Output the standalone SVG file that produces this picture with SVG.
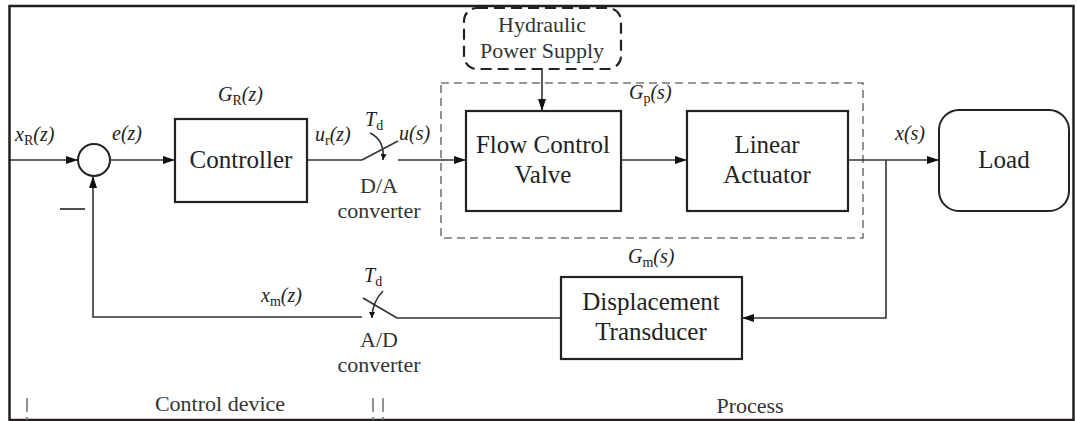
<svg xmlns="http://www.w3.org/2000/svg" width="1077" height="421" viewBox="0 0 1077 421">
<defs>
<marker id="arr" viewBox="0 0 12 8" refX="12" refY="4" markerWidth="12" markerHeight="8" markerUnits="userSpaceOnUse" orient="auto">
<path d="M0,0 L12,4 L0,8 Z" fill="#111"/>
</marker>
<marker id="sarr" viewBox="0 0 6 6" refX="6" refY="3" markerWidth="6" markerHeight="6" markerUnits="userSpaceOnUse" orient="auto">
<path d="M0,0 L6,3 L0,6 Z" fill="#111"/>
</marker>
<style>
.box{fill:#fff;stroke:#222;stroke-width:2.2}
.lbl{font-family:"Liberation Serif",serif;font-size:25px;fill:#222;text-anchor:middle}
.sm{font-family:"Liberation Serif",serif;font-size:22px;fill:#333;text-anchor:middle}
.math{font-family:"Liberation Serif",serif;font-size:20px;font-style:italic;fill:#222}
.sub{font-style:normal;font-size:14px}
.ln{fill:none;stroke:#333;stroke-width:1.6}
.dash{fill:none;stroke:#777;stroke-width:1.6;stroke-dasharray:8 5}
</style>
</defs>
<rect x="0" y="0" width="1077" height="421" fill="#fff"/>
<rect x="9.5" y="6" width="1064" height="414" fill="none" stroke="#231f20" stroke-width="2.5"/>

<g id="plant-group">
<rect x="441" y="83" width="422" height="155" class="dash"/>
<text x="629" y="99" class="math">G<tspan class="sub" dy="4">p</tspan><tspan dy="-4">(s)</tspan></text>
</g>

<g id="hydraulic">
<rect x="464" y="8" width="157" height="61" rx="13" fill="#fff" stroke="#222" stroke-width="2.2" stroke-dasharray="11 6"/>
<text x="542" y="32" class="sm">Hydraulic</text>
<text x="542" y="58" class="sm">Power Supply</text>
</g>

<g id="sum">
<circle cx="94" cy="160" r="16" fill="#fff" stroke="#222" stroke-width="2"/>
<line x1="60" y1="209" x2="85" y2="209" stroke="#222" stroke-width="1.6"/>
</g>

<g id="controller">
<rect x="175" y="119" width="132" height="83" class="box"/>
<text x="241" y="168" class="lbl">Controller</text>
<text x="218" y="101" class="math">G<tspan class="sub" dy="4">R</tspan><tspan dy="-4">(z)</tspan></text>
</g>

<g id="da">
<line x1="362" y1="160" x2="398" y2="141" class="ln"/>
<path d="M370,133 Q385,140 383,160" class="ln" marker-end="url(#sarr)"/>
<text x="365" y="126" class="math">T<tspan class="sub" dy="4">d</tspan></text>
<text x="379" y="193" class="sm">D/A</text>
<text x="379" y="218" class="sm">converter</text>
</g>

<g id="fcv">
<rect x="466" y="111" width="155" height="100" class="box"/>
<text x="543" y="153" class="lbl">Flow Control</text>
<text x="543" y="183" class="lbl">Valve</text>
</g>

<g id="actuator">
<rect x="687" y="111" width="161" height="100" class="box"/>
<text x="767" y="153" class="lbl">Linear</text>
<text x="767" y="183" class="lbl">Actuator</text>
</g>

<g id="load">
<rect x="939" y="110" width="130" height="101" rx="20" fill="#fff" stroke="#222" stroke-width="2"/>
<text x="1004" y="168" class="lbl">Load</text>
</g>

<g id="transducer">
<rect x="561" y="277" width="181" height="82" class="box"/>
<text x="651" y="310" class="lbl">Displacement</text>
<text x="651" y="340" class="lbl">Transducer</text>
<text x="628" y="263" class="math">G<tspan class="sub" dy="4">m</tspan><tspan dy="-4">(s)</tspan></text>
</g>

<g id="ad">
<line x1="363" y1="298" x2="397" y2="318" class="ln"/>
<path d="M383,291 Q372,302 372,318" class="ln" marker-end="url(#sarr)"/>
<text x="364" y="282" class="math">T<tspan class="sub" dy="4">d</tspan></text>
<text x="379" y="347" class="sm">A/D</text>
<text x="379" y="372" class="sm">converter</text>
</g>

<g id="connectors">
<line x1="10" y1="160" x2="78" y2="160" class="ln" marker-end="url(#arr)"/>
<line x1="110" y1="160" x2="175" y2="160" class="ln" marker-end="url(#arr)"/>
<line x1="307" y1="160" x2="362" y2="160" class="ln"/>
<line x1="398" y1="160" x2="466" y2="160" class="ln" marker-end="url(#arr)"/>
<line x1="542" y1="69" x2="542" y2="111" class="ln" marker-end="url(#arr)"/>
<line x1="621" y1="160" x2="687" y2="160" class="ln" marker-end="url(#arr)"/>
<line x1="848" y1="160" x2="939" y2="160" class="ln" marker-end="url(#arr)"/>
<polyline points="886,160 886,318 742,318" class="ln" marker-end="url(#arr)"/>
<line x1="561" y1="318" x2="397" y2="318" class="ln"/>
<polyline points="362,317 93,317 93,176" class="ln" marker-end="url(#arr)"/>
</g>

<g id="signal-labels">
<text x="15" y="141" class="math">x<tspan class="sub" dy="4">R</tspan><tspan dy="-4">(z)</tspan></text>
<text x="112" y="140" class="math">e(z)</text>
<text x="315" y="141" class="math">u<tspan class="sub" dy="4">r</tspan><tspan dy="-4">(z)</tspan></text>
<text x="399" y="140" class="math">u(s)</text>
<text x="895" y="140" class="math">x(s)</text>
<text x="261" y="302" class="math">x<tspan class="sub" dy="4">m</tspan><tspan dy="-4">(z)</tspan></text>
</g>

<g id="sections">
<path d="M27,398 V412 M27,417 V420 M373,398 V412 M373,417 V420 M383,398 V412 M383,417 V420" stroke="#777" stroke-width="1.6" fill="none"/>
<text x="220" y="411" class="sm">Control device</text>
<text x="750" y="413" class="sm">Process</text>
</g>
</svg>
